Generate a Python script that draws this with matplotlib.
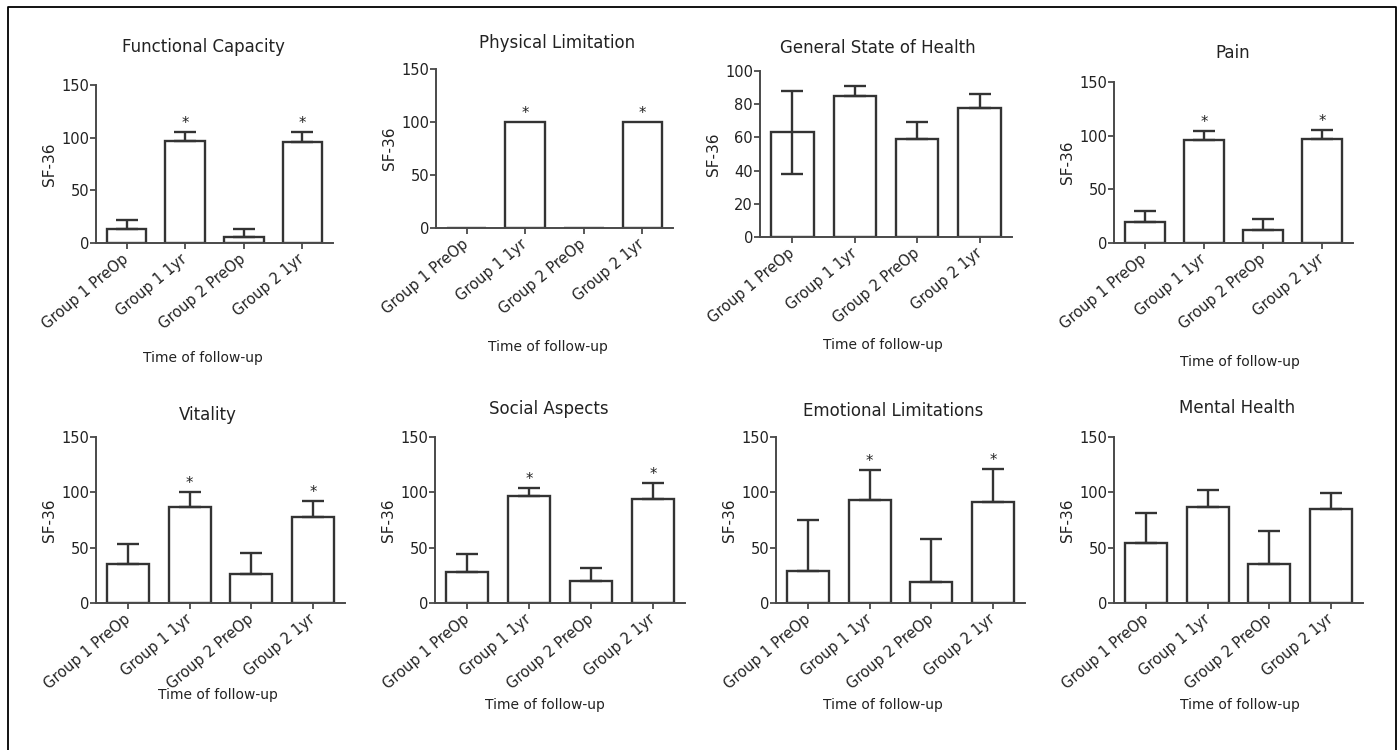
import numpy as np
import matplotlib
matplotlib.use("Agg")
import matplotlib.pyplot as plt
import matplotlib.transforms as mtransforms
from matplotlib.lines import Line2D

# ---------------- DATA ----------------
groups = ["Group 1 PreOp", "Group 1 1yr", "Group 2 PreOp", "Group 2 1yr"]

titles = ["Functional Capacity", "Physical Limitation", "General State of Health", "Pain",
          "Vitality", "Social Aspects", "Emotional Limitations", "Mental Health"]

functional_capacity = [13, 97, 6, 96]
functional_capacity_err = [9, 8, 7, 9]

physical_limitation = [0, 100, 0, 100]
physical_limitation_err = [0, 0, 0, 0]

general_health = [63, 85, 59, 78]
general_health_err = [25, 6, 10, 8]
general_health_err_low = [25, 0, 0, 0]

pain = [20, 96, 12, 97]
pain_err = [10, 8, 10, 8]

vitality = [35, 87, 26, 78]
vitality_err = [18, 13, 19, 14]

social = [28, 97, 20, 94]
social_err = [16, 7, 12, 14]

emotional = [29, 93, 19, 91]
emotional_err = [46, 27, 39, 30]

mental = [54, 87, 35, 85]
mental_err = [27, 15, 30, 14]

means = [functional_capacity, physical_limitation, general_health, pain,
         vitality, social, emotional, mental]
errs_up = [functional_capacity_err, physical_limitation_err, general_health_err, pain_err,
           vitality_err, social_err, emotional_err, mental_err]
errs_low = [[0, 0, 0, 0], [0, 0, 0, 0], general_health_err_low, [0, 0, 0, 0],
            [0, 0, 0, 0], [0, 0, 0, 0], [0, 0, 0, 0], [0, 0, 0, 0]]
starred = [True, True, False, True, True, True, True, False]
y_max = [150, 150, 100, 150, 150, 150, 150, 150]
y_step = [50, 50, 20, 50, 50, 50, 50, 50]

# ---------------- LAYOUT (pixels) ----------------
W, H = 1400, 750
# left, right, top, bottom of each axes
boxes = [(96, 333, 85, 243), (436, 673, 69, 228), (760, 1012, 71, 237), (1114, 1353, 82, 243),
         (96, 345, 437, 603), (435, 685, 437, 603), (776, 1025, 437, 603), (1114, 1363, 437, 603)]
title_pos = [(203, 47), (557, 43), (878, 48), (1233, 53),
             (208, 415), (549, 409), (893, 411), (1237, 408)]
xlabel_pos = [(203, 358), (548, 347), (883, 345), (1240, 362),
              (218, 695), (545, 705), (883, 705), (1240, 705)]

dark = "#333333"
axis_col = "#4a4a4a"

fig = plt.figure(figsize=(14, 7.5), dpi=100)
fig.patch.set_facecolor("white")

x = np.arange(len(groups))
label_shift = mtransforms.ScaledTranslation(4 / 100, -1 / 100, fig.dpi_scale_trans)

for i in range(8):
    l, r, t, b = boxes[i]
    ax = fig.add_axes([l / W, 1 - b / H, (r - l) / W, (b - t) / H])

    ax.bar(x, means[i], width=0.68, color="white", edgecolor=dark, linewidth=1.7, zorder=2)

    up = np.array(errs_up[i])
    low = np.array(errs_low[i])
    has = up > 0
    if has.any():
        ax.errorbar(x[has], np.array(means[i])[has], yerr=[low[has], up[has]], fmt="none",
                    ecolor=dark, elinewidth=1.7, capsize=8, capthick=1.7, zorder=3)

    if starred[i]:
        for j in [1, 3]:
            ax.annotate("*", (x[j], means[i][j] + errs_up[i][j]), xytext=(0, 3),
                        textcoords="offset points", ha="center", va="baseline",
                        fontsize=10.5, color="#222222")

    ax.set_xlim(-0.52, 3.52)
    ax.set_ylim(0, y_max[i])
    ax.set_yticks(np.arange(0, y_max[i] + 1, y_step[i]))
    ax.set_xticks(x)
    ax.set_xticklabels(groups, rotation=40, ha="right", va="center",
                       rotation_mode="anchor", fontsize=10.5, color="#222222")
    for lab in ax.get_xticklabels():
        lab.set_transform(lab.get_transform() + label_shift)
    ax.tick_params(axis="y", labelsize=10.5, labelcolor="#222222")
    ax.tick_params(direction="out", length=4, width=1.3, color=axis_col, pad=1)
    ax.tick_params(axis="x", pad=6)

    for s in ["top", "right"]:
        ax.spines[s].set_visible(False)
    for s in ["left", "bottom"]:
        ax.spines[s].set_color(axis_col)
        ax.spines[s].set_linewidth(1.4)

    ax.set_ylabel("SF-36", fontsize=11, color="#222222", labelpad=3)

    fig.text(title_pos[i][0] / W, 1 - title_pos[i][1] / H, titles[i],
             ha="center", va="center", fontsize=12, color="#222222")
    fig.text(xlabel_pos[i][0] / W, 1 - xlabel_pos[i][1] / H, "Time of follow-up",
             ha="center", va="center", fontsize=10, color="#222222")

# outer frame (left, top, right)
fig.add_artist(Line2D([8 / W, 8 / W, 1396 / W, 1396 / W],
                      [0, 1 - 7 / H, 1 - 7 / H, 0],
                      transform=fig.transFigure, color="black", linewidth=1.3))

fig.savefig("out.png", dpi=100)
